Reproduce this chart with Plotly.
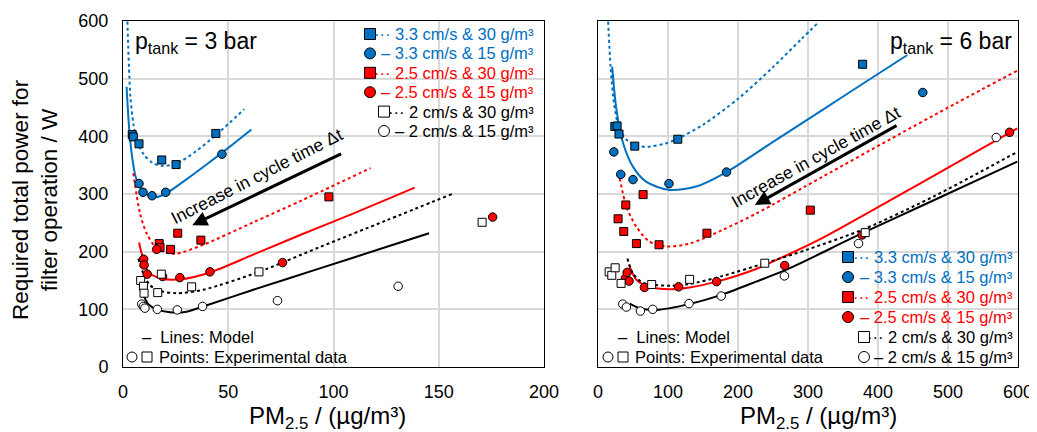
import plotly.graph_objects as go

FONT = "Liberation Sans, Arial, sans-serif"
BLUE = "#0070C0"
RED = "#FF0000"
BLACK = "#000000"

# ---------------- Left panel (p_tank = 3 bar) ----------------
L_b30_x = [4.4, 4.9, 7.6, 18.4, 25.2, 44.1]
L_b30_y = [403, 399, 387, 359, 351, 405]
L_b15_x = [7.6, 9.5, 13.8, 20.3, 47.0]
L_b15_y = [318, 303, 297, 303, 369]
L_r30_x = [17.2, 17.6, 22.6, 26.0, 37.0, 97.8]
L_r30_y = [214, 207, 204, 232, 220, 295]
L_r15_x = [9.8, 10.0, 11.5, 16.0, 18.8, 27.0, 41.3, 75.8, 175.6]
L_r15_y = [187, 177, 161, 204, 157, 155, 165, 181, 260]
L_k30_x = [8.4, 9.7, 10.0, 16.5, 18.2, 32.6, 64.6, 170.6]
L_k30_y = [150, 140, 128, 129, 161, 139, 165, 251]
L_k15_x = [8.9, 9.7, 10.4, 16.3, 25.8, 37.8, 73.4, 130.7]
L_k15_y = [109, 105, 102, 100, 99, 105, 115, 140]

# model curves
LM_b30_x = [2.1, 3.5, 5, 7, 10, 14, 18, 25, 35, 45, 57.6]
LM_b30_y = [599, 470, 420, 388, 368, 354, 349, 352, 375, 405, 447]
LM_b15_x = [1.7, 3, 4.5, 6, 8, 11, 14.4, 20, 30, 40, 50, 61]
LM_b15_y = [486, 410, 360, 330, 312, 300, 294, 300, 325, 352, 380, 412]
LM_r30_x = [4.9, 8.1, 11.2, 16, 24, 38.1, 61.9, 85.6, 117.6]
LM_r30_y = [336, 266, 232, 206, 196, 212, 251, 290, 345]
LM_r15_x = [7.6, 9.7, 12, 17.6, 27, 41.3, 61.9, 85.6, 109.3, 138.6]
LM_r15_y = [216, 186, 165, 154, 152, 164, 195, 231, 266, 311]
LM_k30_x = [7.3, 9.7, 12.8, 17.6, 25.5, 38.1, 64.6, 93.5, 125, 156.3]
LM_k30_y = [188, 162, 142, 132, 128, 134, 165, 208, 254, 300]
LM_k15_x = [9.3, 12, 16, 22.3, 30.2, 38.1, 61.9, 93.5, 125, 145.4]
LM_k15_y = [128, 109, 100, 95, 96, 105, 134, 171, 208, 232]

# ---------------- Right panel (p_tank = 6 bar) ----------------
R_b30_x = [24.0, 27.3, 30.0, 52.5, 114.0, 378.0]
R_b30_y = [417, 418, 404, 383, 395, 525]
R_b15_x = [22.6, 32.5, 50.0, 101.4, 183.6, 464.0]
R_b15_y = [373, 334, 325, 318, 338, 476]
R_r30_x = [28.7, 36.8, 39.7, 54.9, 64.4, 87.2, 155.6, 303.3]
R_r30_y = [257, 235, 281, 214, 299, 212, 232, 272]
R_r15_x = [39.2, 41.6, 44.4, 66.3, 115.2, 169.4, 266.7, 377.4, 588.0]
R_r15_y = [154, 164, 149, 138, 139, 148, 176, 229, 407]
R_k30_x = [15.9, 19.7, 24.5, 33.0, 76.7, 130.9, 238.3, 381.7]
R_k30_y = [165, 159, 172, 145, 143, 152, 180, 233]
R_k15_x = [35.4, 40.6, 60.6, 78.2, 130.0, 176.0, 266.3, 372.2, 568.9]
R_k15_y = [109, 104, 97, 100, 110, 123, 158, 214, 398]

RM_b30_x = [14.5, 18, 23, 30, 40, 55, 71.5, 95, 114, 150, 200, 250, 290, 316]
RM_b30_y = [599, 520, 455, 415, 395, 384, 382, 387, 396, 420, 465, 520, 568, 599]
RM_b15_x = [20.2, 26.4, 35.9, 50.1, 69.1, 102.4, 140.4, 183.6, 249.5, 320.8, 392.1, 442]
RM_b15_y = [521, 446, 388, 347, 321, 307, 313, 338, 390, 446, 502, 541]
RM_r30_x = [31.1, 40.6, 54.9, 73.9, 97.6, 130.9, 178.4, 225.9, 320.9, 415.9, 510.9, 599]
RM_r30_y = [327, 278, 243, 217, 209, 214, 238, 266, 330, 394, 457, 514]
RM_r15_x = [44.4, 54.9, 73.9, 102.4, 130.9, 169.4, 225.9, 273.4, 320.9, 415.9, 510.9, 599]
RM_r15_y = [177, 151, 139, 135, 138, 148, 170, 196, 224, 288, 353, 414]
RM_k30_x = [42, 50.1, 64.4, 102.4, 130.9, 178.4, 238.3, 300, 381.7, 480, 599]
RM_k30_y = [188, 162, 146, 141, 144, 158, 180, 204, 240, 296, 373]
RM_k15_x = [45.4, 59.6, 83.4, 130, 176, 225.9, 273.4, 372.2, 463.4, 599]
RM_k15_y = [110, 102, 99, 109, 125, 148, 171, 229, 280, 356]

LEG_LABELS = ["··· 3.3 cm/s & 30 g/m³", "– 3.3 cm/s & 15 g/m³",
              "··· 2.5 cm/s & 30 g/m³", "– 2.5 cm/s & 15 g/m³",
              "··· 2 cm/s & 30 g/m³", "– 2 cm/s & 15 g/m³"]
LEG_COLORS = [BLUE, BLUE, RED, RED, BLACK, BLACK]
LEG_FILL = [BLUE, BLUE, RED, RED, "white", "white"]
LEG_SYMBOL = ["square", "circle", "square", "circle", "square", "circle"]

fig = go.Figure()

def add_panel(xa, ya, lines, points):
    for (x, y, color, dash) in lines:
        fig.add_trace(go.Scatter(x=x, y=y, mode="lines", xaxis=xa, yaxis=ya,
                                 line=dict(color=color, width=2, dash=dash, shape="spline", smoothing=0.8),
                                 showlegend=False, hoverinfo="skip"))
    for (x, y, fill, sym) in points:
        fig.add_trace(go.Scatter(x=x, y=y, mode="markers", xaxis=xa, yaxis=ya,
                                 marker=dict(symbol=sym, size=8 if sym == "square" else 8.5, color=fill,
                                             line=dict(color="black", width=1)),
                                 showlegend=False))

add_panel("x", "y",
          [(LM_b30_x, LM_b30_y, BLUE, "dot"), (LM_b15_x, LM_b15_y, BLUE, "solid"),
           (LM_r30_x, LM_r30_y, RED, "dot"), (LM_r15_x, LM_r15_y, RED, "solid"),
           (LM_k30_x, LM_k30_y, BLACK, "dot"), (LM_k15_x, LM_k15_y, BLACK, "solid")],
          [(L_b30_x, L_b30_y, BLUE, "square"), (L_b15_x, L_b15_y, BLUE, "circle"),
           (L_r30_x, L_r30_y, RED, "square"), (L_r15_x, L_r15_y, RED, "circle"),
           (L_k30_x, L_k30_y, "white", "square"), (L_k15_x, L_k15_y, "white", "circle")])
add_panel("x2", "y2",
          [(RM_b30_x, RM_b30_y, BLUE, "dot"), (RM_b15_x, RM_b15_y, BLUE, "solid"),
           (RM_r30_x, RM_r30_y, RED, "dot"), (RM_r15_x, RM_r15_y, RED, "solid"),
           (RM_k30_x, RM_k30_y, BLACK, "dot"), (RM_k15_x, RM_k15_y, BLACK, "solid")],
          [(R_b30_x, R_b30_y, BLUE, "square"), (R_b15_x, R_b15_y, BLUE, "circle"),
           (R_r30_x, R_r30_y, RED, "square"), (R_r15_x, R_r15_y, RED, "circle"),
           (R_k30_x, R_k30_y, "white", "square"), (R_k15_x, R_k15_y, "white", "circle")])

# ---- page offset (body margin) and overlay pixel-coordinate axis for decorations ----
OFF = 8
W, H = 1037 - OFF, 432 - OFF

annotations = []
def legend_block(x_right, x_marker_fill, x_marker_open, y0, dy):
    for i, (lab, col, fill, sym) in enumerate(zip(LEG_LABELS, LEG_COLORS, LEG_FILL, LEG_SYMBOL)):
        y = y0 + i * dy
        xm = x_marker_fill if i < 4 else x_marker_open
        fig.add_trace(go.Scatter(x=[xm], y=[y], mode="markers", xaxis="x3", yaxis="y3",
                                 marker=dict(symbol=sym, size=11, color=fill,
                                             line=dict(color="black", width=1)),
                                 showlegend=False, hoverinfo="skip"))
        annotations.append(dict(x=x_right, y=y, xref="x3", yref="y3", text=lab, showarrow=False,
                                xanchor="right", yanchor="middle",
                                font=dict(family=FONT, size=16.5, color=col)))

def note_block(x_circle, y1, y2):
    fig.add_trace(go.Scatter(x=[x_circle, x_circle + 15], y=[y2, y2], mode="markers", xaxis="x3", yaxis="y3",
                             marker=dict(symbol=["circle-open", "square-open"], size=10,
                                         color="black", line=dict(width=1)),
                             showlegend=False, hoverinfo="skip"))
    annotations.append(dict(x=x_circle + 8, y=y1, xref="x3", yref="y3", text="–  Lines: Model",
                            showarrow=False, xanchor="left", yanchor="middle",
                            font=dict(family=FONT, size=16.5, color="black")))
    annotations.append(dict(x=x_circle + 25, y=y2, xref="x3", yref="y3", text="Points: Experimental data",
                            showarrow=False, xanchor="left", yanchor="middle",
                            font=dict(family=FONT, size=16.5, color="black")))

legend_block(536, 370, 384, 34, 19.4)
legend_block(1015, 848, 864, 257, 20)
note_block(132, 337, 357)
note_block(608, 337, 357)

# p_tank labels
annotations.append(dict(x=133, y=42, xref="x3", yref="y3", text="p<sub>tank</sub> = 3 bar", showarrow=False,
                        xanchor="left", yanchor="middle", font=dict(family=FONT, size=23, color="black")))
annotations.append(dict(x=1014, y=42, xref="x3", yref="y3", text="p<sub>tank</sub> = 6 bar", showarrow=False,
                        xanchor="right", yanchor="middle", font=dict(family=FONT, size=23, color="black")))

# arrows
annotations.append(dict(x=32.9, y=246, ax=104.3, ay=371, xref="x", yref="y", axref="x", ayref="y",
                        text="", showarrow=True, arrowhead=2, arrowsize=1, arrowwidth=3, arrowcolor="black"))
annotations.append(dict(x=63.8, y=331, xref="x", yref="y", text="Increase in cycle time Δt", showarrow=False,
                        textangle=-27, font=dict(family=FONT, size=17.5, color="black")))
annotations.append(dict(x=224, y=281, ax=428.6, ay=420, xref="x2", yref="y2", axref="x2", ayref="y2",
                        text="", showarrow=True, arrowhead=2, arrowsize=1, arrowwidth=3, arrowcolor="black"))
annotations.append(dict(x=311, y=364, xref="x2", yref="y2", text="Increase in cycle time Δt", showarrow=False,
                        textangle=-29, font=dict(family=FONT, size=17.5, color="black")))

# axis titles
annotations.append(dict(x=35, y=200, xref="x3", yref="y3", text="Required total power for<br>filter operation / W",
                        showarrow=False, textangle=-90, xanchor="center", yanchor="middle",
                        font=dict(family=FONT, size=22.5, color="black")))
annotations.append(dict(x=327, y=417, xref="x3", yref="y3", text="PM<sub>2.5</sub> / (µg/m³)",
                        showarrow=False, xanchor="center", yanchor="middle",
                        font=dict(family=FONT, size=24, color="black")))
annotations.append(dict(x=818, y=417, xref="x3", yref="y3", text="PM<sub>2.5</sub> / (µg/m³)",
                        showarrow=False, xanchor="center", yanchor="middle",
                        font=dict(family=FONT, size=24, color="black")))

top, bot = 21 - OFF, 367 - OFF
ydom = [1 - bot / H, 1 - top / H]
axis_common = dict(showgrid=True, gridcolor="#d9d9d9", gridwidth=1.5, zeroline=False,
                   showline=True, linecolor="black", linewidth=1, mirror=True, ticks="",
                   tickfont=dict(family=FONT, size=18, color="black"), automargin=False,
                   ticklabeloverflow="allow")

fig.update_layout(
    width=W, height=H,
    margin=dict(l=0, r=0, t=0, b=0),
    paper_bgcolor="white", plot_bgcolor="rgba(0,0,0,0)",
    showlegend=False,
    xaxis=dict(domain=[(123 - OFF) / W, (544 - OFF) / W], range=[0, 200], dtick=50, anchor="y",
               ticklabelstandoff=8, **axis_common),
    yaxis=dict(domain=ydom, range=[0, 600], dtick=100, anchor="x",
               ticklabelstandoff=10, **axis_common),
    xaxis2=dict(domain=[(598 - OFF) / W, (1018 - OFF) / W], range=[0, 600], dtick=100, anchor="y2",
                ticklabelstandoff=8, **axis_common),
    yaxis2=dict(domain=ydom, range=[0, 600], dtick=100, anchor="x2", showticklabels=False,
                **axis_common),
    xaxis3=dict(domain=[0, 1], range=[OFF, 1037], visible=False, fixedrange=True, anchor="y3"),
    yaxis3=dict(domain=[0, 1], range=[432, OFF], visible=False, fixedrange=True, anchor="x3"),
    annotations=annotations,
)

fig.write_html("out.html")
